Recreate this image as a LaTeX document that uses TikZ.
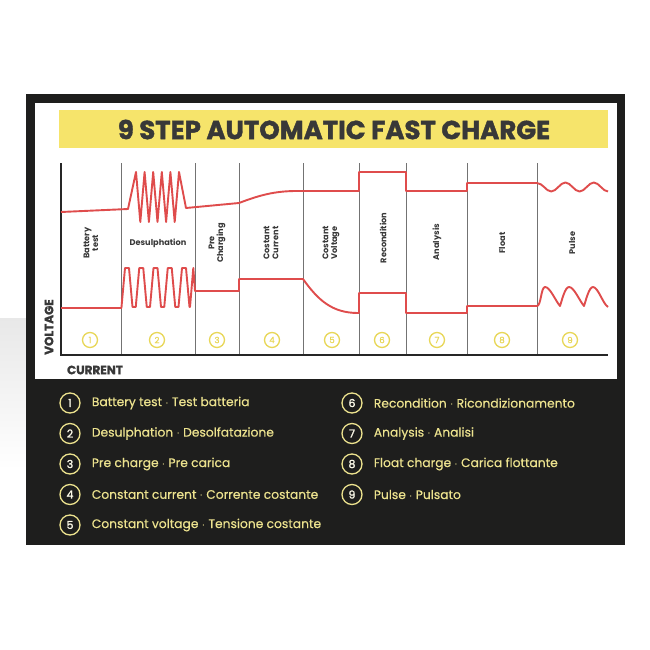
\documentclass[tikz,border=0pt]{standalone}
\usepackage{fontspec}
\setmainfont{Poppins}
\newfontfamily\headfont[FakeBold=1.5]{Poppins}
\newfontfamily\listfont[FakeBold=0.5]{Poppins}
\usetikzlibrary{positioning}
\definecolor{panel}{HTML}{1E1E1D}
\definecolor{banner}{HTML}{F6E46B}
\definecolor{ink}{HTML}{383838}
\definecolor{trace}{HTML}{DF4C4C}
\definecolor{pale}{HTML}{E8D758}
\definecolor{listink}{HTML}{ECE28E}
\tikzstyle{divider}=[draw=black!55, line width=0.9pt]
\tikzstyle{axis}=[draw=black!85, line width=1.8pt]
\tikzstyle{curve}=[draw=trace, line width=1.9pt, line join=round]
\tikzstyle{phase}=[font=\bfseries\fontsize{8.2}{8.8}\selectfont, text=ink, align=center, inner sep=0pt]
\tikzstyle{stepno}=[circle, draw=pale, line width=1.3pt, text=pale, minimum size=15pt, inner sep=0pt, font=\listfont\fontsize{8.5}{8.5}\selectfont]
\tikzstyle{keyno}=[circle, draw=listink, line width=1.3pt, text=white!80!listink, minimum size=20pt, inner sep=0pt, font=\headfont\fontsize{11}{11}\selectfont]
\tikzstyle{keytext}=[text=listink, inner sep=0pt, font=\listfont\fontsize{12.3}{13}\selectfont]
\tikzstyle{axislabel}=[text=ink, inner sep=0pt, font=\headfont\bfseries\fontsize{12}{12}\selectfont]

\begin{document}
\begin{tikzpicture}[x=1pt, y=-1pt]
    \useasboundingbox (0,0) rectangle (650,650);
    % background
    \shade[top color=black!9, bottom color=white] (0,318) rectangle (26,470);
    \fill[panel] (26,94) rectangle (625,545);
    \fill[white] (35,103) rectangle (617,379);
    \fill[banner] (59,110) rectangle (608,148);
    \node[text=ink, inner sep=0pt, font=\headfont\bfseries\fontsize{26}{26}\selectfont] (title) at (334,129.5) {9 STEP AUTOMATIC FAST CHARGE};

    % chart frame
    \draw[divider] (121,163) -- (121,355);
    \draw[divider] (195,163) -- (195,355);
    \draw[divider] (239,163) -- (239,355);
    \draw[divider] (303,163) -- (303,355);
    \draw[divider] (359,163) -- (359,355);
    \draw[divider] (406,163) -- (406,355);
    \draw[divider] (467,163) -- (467,355);
    \draw[divider] (537,163) -- (537,355);
    \draw[axis] (61,163) -- (61,355) -- (608,355);
    \node[axislabel, rotate=90] (vlab) at (49,327) {VOLTAGE};
    \node[axislabel] (clab) at (95,370) {CURRENT};

    % voltage trace
    \draw[curve] (61,212) -- (128,209)
        \foreach \i in {0,...,4} { -- ({136+8.6*\i},172) -- ({140.3+8.6*\i},222) }
        -- (179,172) -- (186,208) -- (239,203)
        .. controls (260,195) and (275,191) .. (297,191) -- (359,191)
        -- (359,172) -- (406,172) -- (406,191) -- (467,191) -- (467,183) -- (537,183)
        cos (544.1,187) sin (551.2,191.5) cos (558.3,187) sin (565.4,182.5)
        cos (572.5,187) sin (579.6,191.5) cos (586.7,187) sin (593.8,182.5)
        cos (600.9,187) sin (608,191.5);

    % current trace
    \draw[curve] (61,308) -- (121.5,308)
        \foreach \i in {0,...,4} { -- ({121.5+14.25*\i},307) -- ({125+14.25*\i},268)
            -- ({129+14.25*\i},268) -- ({132.5+14.25*\i},307) }
        -- (190,307) -- (193.3,268) -- (195,291) -- (239,291) -- (239,279) -- (303,279)
        .. controls (318,300) and (332,313) .. (358,313) -- (359,313)
        -- (359,293) -- (406,293) -- (406,313) -- (467,313) -- (467,306) -- (537,306)
        .. controls (541,306) and (541,287) .. (545,287)
        .. controls (550,287) and (555,300) .. (560,306)
        .. controls (562,300) and (565,287) .. (569,287)
        .. controls (574,287) and (579,300) .. (584,306)
        .. controls (586,300) and (589,287) .. (593,287)
        .. controls (598,287) and (603,304) .. (608,307);

    % phase names
    \node[phase, rotate=90] (p1) at (91,243) {Battery\\test};
    \node[phase] (p2) at (158,243) {Desulphation};
    \node[phase, rotate=90] (p3) at (217,243) {Pre\\Charging};
    \node[phase, rotate=90] (p4) at (271,243) {Costant\\Current};
    \node[phase, rotate=90] (p5) at (331,243) {Costant\\Voltage};
    \node[phase, rotate=90] (p6) at (383,238) {Recondition};
    \node[phase, rotate=90] (p7) at (437,242) {Analysis};
    \node[phase, rotate=90] (p8) at (502,243) {Float};
    \node[phase, rotate=90] (p9) at (572,243) {Pulse};

    % phase numbers
    \node[stepno] (n1) at (90,340) {1};
    \node[stepno] (n2) at (157,340) {2};
    \node[stepno] (n3) at (217,340) {3};
    \node[stepno] (n4) at (272,340) {4};
    \node[stepno] (n5) at (332,340) {5};
    \node[stepno] (n6) at (382,340) {6};
    \node[stepno] (n7) at (437,340) {7};
    \node[stepno] (n8) at (502,340) {8};
    \node[stepno] (n9) at (570,340) {9};

    % key
    \node[keyno] (k1) at (70,403) {1};
    \node[keyno, below=9.2pt of k1] (k2) {2};
    \node[keyno, below=9.2pt of k2] (k3) {3};
    \node[keyno, below=9.2pt of k3] (k4) {4};
    \node[keyno, below=9.2pt of k4] (k5) {5};
    \node[keyno] (k6) at (352,403) {6};
    \node[keyno, below=9.2pt of k6] (k7) {7};
    \node[keyno, below=9.2pt of k7] (k8) {8};
    \node[keyno, below=9.2pt of k8] (k9) {9};
    \node[keytext, right=11pt of k1] (t1) {Battery test $\cdot$ Test batteria};
    \node[keytext, right=11pt of k2] (t2) {Desulphation $\cdot$ Desolfatazione};
    \node[keytext, right=11pt of k3] (t3) {Pre charge $\cdot$ Pre carica};
    \node[keytext, right=11pt of k4] (t4) {Constant current $\cdot$ Corrente costante};
    \node[keytext, right=11pt of k5] (t5) {Constant voltage $\cdot$ Tensione costante};
    \node[keytext, right=11pt of k6] (t6) {Recondition $\cdot$ Ricondizionamento};
    \node[keytext, right=11pt of k7] (t7) {Analysis $\cdot$ Analisi};
    \node[keytext, right=11pt of k8] (t8) {Float charge $\cdot$ Carica flottante};
    \node[keytext, right=11pt of k9] (t9) {Pulse $\cdot$ Pulsato};
\end{tikzpicture}
\end{document}
